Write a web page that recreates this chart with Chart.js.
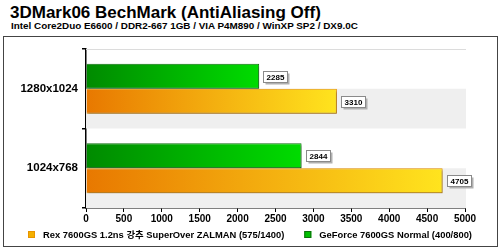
<!DOCTYPE html>
<html>
<head>
<meta charset="utf-8">
<script src="https://cdn.jsdelivr.net/npm/chart.js@4.4.1/dist/chart.umd.min.js"></script>
<style>
  html, body { margin: 0; padding: 0; background: #fff; }
  #wrap { position: relative; width: 500px; height: 248px; overflow: hidden; }
  .t1 { position: absolute; left: 10px; top: 3px; font: bold 17px "Liberation Sans", Arial, sans-serif; color: #000; white-space: nowrap; }
  .t2 { position: absolute; left: 11px; top: 20px; font: bold 9.9px "Liberation Sans", Arial, sans-serif; color: #000; white-space: nowrap; }
  #frame { position: absolute; left: 3px; top: 36px; width: 493px; height: 209px; border: 1px solid #444; }
  canvas { position: absolute; left: 0; top: 0; }
</style>
</head>
<body>
<div id="wrap">
  <div class="t1">3DMark06 BechMark (AntiAliasing Off)</div>
  <div class="t2">Intel Core2Duo E6600 / DDR2-667 1GB / VIA P4M890 / WinXP SP2 / DX9.0C</div>
  <div id="frame"></div>
  <canvas id="myChart" width="500" height="248"></canvas>
</div>
<script>
// 카테고리 / 데이터
var labels = ['1280x1024', '1024x768'];
var geforceNormal = [2285, 2844];
var rexSuperOver = [3310, 4705];
var xTicks = [0, 500, 1000, 1500, 2000, 2500, 3000, 3500, 4000, 4500, 5000];

var FONT = "'Liberation Sans', Arial, 'Noto Sans CJK KR', sans-serif";

function barGradient(from, to) {
    return function (c) {
        var chart = c.chart;
        if (!chart.chartArea || c.raw === undefined) return to;
        var x = chart.scales.x;
        var end = x.getPixelForValue(c.raw);
        var g = chart.ctx.createLinearGradient(x.left, 0, end, 0);
        g.addColorStop(0, from);
        g.addColorStop(1, to);
        return g;
    };
}

// 아래쪽 절반 회색 배경
var bands = {
    id: 'bands',
    beforeDatasetsDraw: function (chart) {
        var ctx = chart.ctx, a = chart.chartArea, y = chart.scales.y;
        var h = (a.bottom - a.top) / labels.length;
        ctx.save();
        ctx.fillStyle = '#efefef';
        for (var i = 0; i < labels.length; i++) {
            var c = y.getPixelForValue(i);
            ctx.fillRect(a.left, c, a.right - a.left + 1, h / 2);
        }
        ctx.strokeStyle = '#dcdcdc';
        ctx.lineWidth = 1;
        ctx.beginPath();
        ctx.moveTo(a.left, a.top + 0.5);
        ctx.lineTo(a.right + 1, a.top + 0.5);
        ctx.stroke();
        ctx.restore();
    }
};

// 막대 그림자
var shadow = {
    id: 'shadow',
    beforeDatasetDraw: function (chart) {
        var ctx = chart.ctx;
        ctx.save();
        ctx.shadowColor = 'rgba(0,0,0,0.3)';
        ctx.shadowOffsetX = 1;
        ctx.shadowOffsetY = 2;
        ctx.shadowBlur = 2;
    },
    afterDatasetDraw: function (chart) {
        chart.ctx.restore();
    }
};

// 값 라벨
var valueLabels = {
    id: 'valueLabels',
    afterDatasetsDraw: function (chart) {
        var ctx = chart.ctx;
        ctx.save();
        ctx.font = 'bold 8px ' + FONT;
        ctx.textAlign = 'center';
        ctx.textBaseline = 'middle';
        chart.data.datasets.forEach(function (ds, di) {
            chart.getDatasetMeta(di).data.forEach(function (el, i) {
                var txt = String(ds.data[i]);
                var w = Math.round(ctx.measureText(txt).width) + 6;
                var h = 11;
                var bx = Math.round(el.x) + 4.5, by = Math.round(el.y - h / 2) + 0.5;
                ctx.fillStyle = '#b0b0b0';
                ctx.fillRect(bx + 2, by + 2, w, h);
                ctx.fillStyle = '#fff';
                ctx.fillRect(bx, by, w, h);
                ctx.strokeStyle = '#8a8a8a';
                ctx.lineWidth = 1;
                ctx.strokeRect(bx, by, w, h);
                ctx.fillStyle = '#000';
                ctx.fillText(txt, bx + w / 2, by + h / 2 + 0.5);
            });
        });
        ctx.restore();
    }
};

// 범례 (순서 반대, 간격 직접 지정)
var bottomLegend = {
    id: 'bottomLegend',
    afterDraw: function (chart) {
        var ctx = chart.ctx;
        var items = chart.data.datasets.slice().reverse();
        var boxW = 7, gapText = 8, gapItem = 20, yMid = 235;
        ctx.save();
        ctx.font = 'bold 9.4px ' + FONT;
        ctx.textBaseline = 'middle';
        var total = 0;
        items.forEach(function (ds, i) {
            total += boxW + gapText + ctx.measureText(ds.label).width + (i ? gapItem : 0);
        });
        var x = Math.round(250 - total / 2);
        items.forEach(function (ds, i) {
            if (i) x += gapItem;
            ctx.fillStyle = ds.legendColor;
            ctx.fillRect(x, yMid - 4, boxW, boxW);
            ctx.strokeStyle = ds.borderColor;
            ctx.lineWidth = 1;
            ctx.strokeRect(x + 0.5, yMid - 3.5, boxW - 1, boxW - 1);
            x += boxW + gapText;
            ctx.fillStyle = '#000';
            ctx.fillText(ds.label, x, yMid);
            x += ctx.measureText(ds.label).width;
        });
        ctx.restore();
    }
};

new Chart(document.getElementById('myChart').getContext('2d'), {
    type: 'bar',
    data: {
        labels: labels,
        datasets: [{
            label: 'GeForce 7600GS Normal (400/800)',
            data: geforceNormal,
            backgroundColor: barGradient('#008a00', '#00dc00'),
            borderColor: '#0b6e0b',
            borderWidth: 1,
            legendColor: '#00c000'
        }, {
            label: 'Rex 7600GS 1.2ns 강추 SuperOver ZALMAN (575/1400)',
            data: rexSuperOver,
            backgroundColor: barGradient('#e87800', '#ffe41e'),
            borderColor: '#e89400',
            borderWidth: 1,
            legendColor: '#f4b000'
        }]
    },
    options: {
        indexAxis: 'y',
        responsive: false,
        animation: false,
        categoryPercentage: 0.63,
        barPercentage: 1.0,
        layout: { padding: { top: 49, right: 35, left: 0, bottom: 20 } },
        plugins: {
            tooltip: { enabled: false },
            legend: { display: false }
        },
        scales: {
            x: {
                min: 0,
                max: 5000,
                afterBuildTicks: function (s) { s.ticks = xTicks.map(function (v) { return { value: v }; }); },
                afterFit: function (s) { s.height = 20; },
                grid: { drawOnChartArea: false, tickLength: 4, color: '#000', lineWidth: 1 },
                border: { color: '#000', width: 1.5 },
                ticks: {
                    color: '#000', padding: 1, maxRotation: 0,
                    font: { family: FONT, size: 10, weight: 'bold' },
                    callback: function (v) { return String(v); }
                }
            },
            y: {
                afterFit: function (s) { s.width = 86; },
                grid: { drawOnChartArea: false, tickLength: 4, color: '#000', lineWidth: 1.5 },
                border: { color: '#000', width: 1.5 },
                ticks: { color: '#000', padding: 4, font: { family: FONT, size: 11.5, weight: 'bold' } }
            }
        }
    },
    plugins: [bands, shadow, valueLabels, bottomLegend]
});
</script>
</body>
</html>
